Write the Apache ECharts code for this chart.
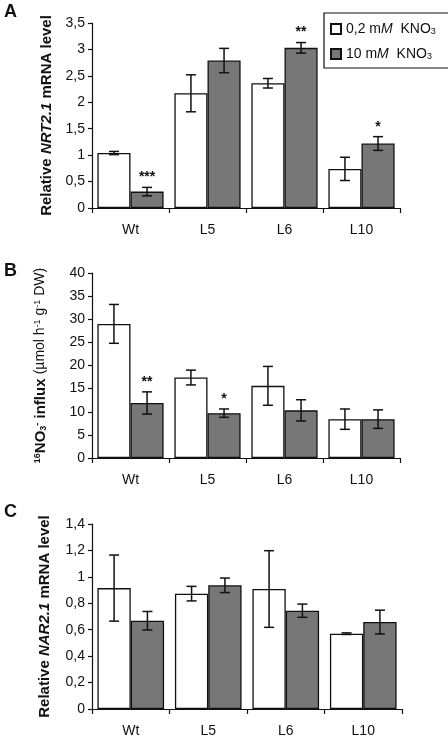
<!DOCTYPE html>
<html><head><meta charset="utf-8">
<script src="https://cdn.jsdelivr.net/npm/echarts@6/dist/echarts.min.js"></script>
<style>html,body{margin:0;padding:0;background:#fff}#c{width:448px;height:740px}</style>
</head><body><div id="c"></div>
<script>
const categories = ['Wt', 'L5', 'L6', 'L10'];
const seriesNames = ['0,2 mM KNO3', '10 mM KNO3'];

// Panel A: relative NRT2.1 mRNA level
const nrtLow = [1.04, 2.17, 2.36, 0.74];
const nrtLowErr = [0.03, 0.35, 0.09, 0.22];
const nrtHigh = [0.31, 2.79, 3.03, 1.22];
const nrtHighErr = [0.08, 0.23, 0.10, 0.13];
const nrtStars = ['***', '', '**', '*'];
const nrtTicks = [0, 0.5, 1, 1.5, 2, 2.5, 3, 3.5];

// Panel B: 15NO3- influx
const influxLow = [29.0, 17.4, 15.6, 8.4];
const influxLowErr = [4.2, 1.6, 4.2, 2.2];
const influxHigh = [11.9, 9.7, 10.3, 8.4];
const influxHighErr = [2.4, 0.9, 2.3, 2.0];
const influxStars = ['**', '*', '', ''];
const influxTicks = [0, 5, 10, 15, 20, 25, 30, 35, 40];

// Panel C: relative NAR2.1 mRNA level
const narLow = [0.915, 0.873, 0.908, 0.57];
const narLowErr = [0.25, 0.055, 0.29, 0.006];
const narHigh = [0.668, 0.936, 0.744, 0.658];
const narHighErr = [0.07, 0.055, 0.05, 0.09];
const narTicks = [0, 0.2, 0.4, 0.6, 0.8, 1, 1.2, 1.4];

const FONT = 'Liberation Sans, Arial, sans-serif';
const GAP = 0.14;
const grids = [
  {left: 92, top: 23, width: 308, height: 185},
  {left: 92, top: 273, width: 308, height: 185},
  {left: 92, top: 524, width: 310, height: 185}
];

function xAx(i) {
  return {
    type: 'category', gridIndex: i, data: categories,
    axisLine: {lineStyle: {color: '#111', width: 1.2}},
    axisTick: {show: true, length: 5, lineStyle: {color: '#111', width: 1.2}},
    axisLabel: {color: '#111', fontSize: 14, fontFamily: FONT, margin: 15}
  };
}
function yAx(i, ticks, name, rich, gap) {
  return {
    type: 'value', gridIndex: i, min: ticks[0], max: ticks[ticks.length - 1],
    interval: ticks[1] - ticks[0],
    axisLine: {show: true, lineStyle: {color: '#111', width: 1.2}},
    axisTick: {show: true, length: 4, lineStyle: {color: '#111', width: 1.2}},
    splitLine: {show: false},
    axisLabel: {color: '#111', fontSize: 14, fontFamily: FONT, margin: 7,
      formatter: v => String(Math.round(v * 10) / 10).replace('.', ',')},
    name: name, nameLocation: 'middle', nameRotate: 90, nameGap: gap,
    nameTextStyle: {color: '#111', fontFamily: FONT, rich: rich}
  };
}
function bar(i, name, vals, color) {
  return {
    type: 'bar', name: name, xAxisIndex: i, yAxisIndex: i, data: vals,
    barGap: '0%', barCategoryGap: (GAP * 100) + '%',
    itemStyle: {color: color, borderColor: '#111', borderWidth: 1.3},
    emphasis: {disabled: true}, silent: true
  };
}
function err(i, vals, errs, sign, stars) {
  return {
    type: 'custom', xAxisIndex: i, yAxisIndex: i, z: 10, silent: true,
    data: vals.map((v, k) => [k, v - errs[k], v + errs[k]]),
    renderItem(params, api) {
      const k = api.value(0);
      const band = api.size([1, 0])[0];
      const off = sign * band * (1 - GAP) / 4;
      const t = api.coord([k, api.value(2)]);
      const b = api.coord([k, api.value(1)]);
      const x = t[0] + off, cap = 5;
      const st = {stroke: '#111', lineWidth: 1.5};
      const ch = [
        {type: 'line', shape: {x1: x, y1: t[1], x2: x, y2: b[1]}, style: st},
        {type: 'line', shape: {x1: x - cap, y1: t[1], x2: x + cap, y2: t[1]}, style: st},
        {type: 'line', shape: {x1: x - cap, y1: b[1], x2: x + cap, y2: b[1]}, style: st}
      ];
      const s = stars && stars[params.dataIndex];
      if (s) ch.push({type: 'text', style: {text: s, x: x, y: t[1] - 3, align: 'center',
        verticalAlign: 'bottom', font: 'bold 14px ' + FONT, fill: '#111'}});
      return {type: 'group', children: ch};
    }
  };
}

const boldRich = {
  b: {fontWeight: 'bold', fontSize: 15, fontFamily: FONT, color: '#111'},
  bi: {fontWeight: 'bold', fontStyle: 'italic', fontSize: 15, fontFamily: FONT, color: '#111'}
};
const influxRich = {
  b: {fontWeight: 'bold', fontSize: 15, fontFamily: FONT, color: '#111'},
  sup: {fontWeight: 'bold', fontSize: 9, fontFamily: FONT, color: '#111', verticalAlign: 'top'},
  sub: {fontWeight: 'bold', fontSize: 9, fontFamily: FONT, color: '#111', verticalAlign: 'bottom'},
  n: {fontSize: 14, fontFamily: FONT, color: '#111'},
  s2: {fontSize: 9, fontFamily: FONT, color: '#111', verticalAlign: 'top'}
};

const chart = echarts.init(document.getElementById('c'), null, {renderer: 'canvas'});
chart.setOption({
  animation: false,
  backgroundColor: '#fff',
  grid: grids,
  xAxis: [xAx(0), xAx(1), xAx(2)],
  yAxis: [
    yAx(0, nrtTicks, '{b|Relative }{bi|NRT2.1}{b| mRNA level}', boldRich, 38),
    yAx(1, influxTicks, '{sup|16}{b|NO}{sub|3}{sup|-}{b| influx }{n|(µmol h}{s2|-1}{n| g}{s2|-1}{n| DW)}', influxRich, 44),
    yAx(2, narTicks, '{b|Relative }{bi|NAR2.1}{b| mRNA level}', boldRich, 40)
  ],
  legend: {
    left: 324, top: 13, orient: 'vertical', data: seriesNames,
    padding: [9, 14, 7, 6], itemGap: 11, itemWidth: 10, itemHeight: 10, icon: 'rect',
    borderColor: '#111', borderWidth: 1.2,
    formatter: n => n === seriesNames[0] ? '{t|0,2 m}{i|M}{t|  KNO}{s|3}' : '{t|10 m}{i|M}{t|  KNO}{s|3}',
    textStyle: {rich: {
      t: {fontSize: 14, fontFamily: FONT, color: '#111'},
      i: {fontSize: 14, fontFamily: FONT, fontStyle: 'italic', color: '#111'},
      s: {fontSize: 9, fontFamily: FONT, color: '#111', verticalAlign: 'bottom'}
    }}
  },
  graphic: [
    {type: 'text', left: 4, top: 3, style: {text: 'A', font: 'bold 18px ' + FONT, fill: '#111'}},
    {type: 'text', left: 4, top: 262, style: {text: 'B', font: 'bold 18px ' + FONT, fill: '#111'}},
    {type: 'text', left: 4, top: 503, style: {text: 'C', font: 'bold 18px ' + FONT, fill: '#111'}}
  ],
  series: [
    bar(0, seriesNames[0], nrtLow, '#ffffff'),
    bar(0, seriesNames[1], nrtHigh, '#777777'),
    err(0, nrtLow, nrtLowErr, -1, null),
    err(0, nrtHigh, nrtHighErr, 1, nrtStars),
    bar(1, seriesNames[0], influxLow, '#ffffff'),
    bar(1, seriesNames[1], influxHigh, '#777777'),
    err(1, influxLow, influxLowErr, -1, null),
    err(1, influxHigh, influxHighErr, 1, influxStars),
    bar(2, seriesNames[0], narLow, '#ffffff'),
    bar(2, seriesNames[1], narHigh, '#777777'),
    err(2, narLow, narLowErr, -1, null),
    err(2, narHigh, narHighErr, 1, null)
  ]
});
</script></body></html>
